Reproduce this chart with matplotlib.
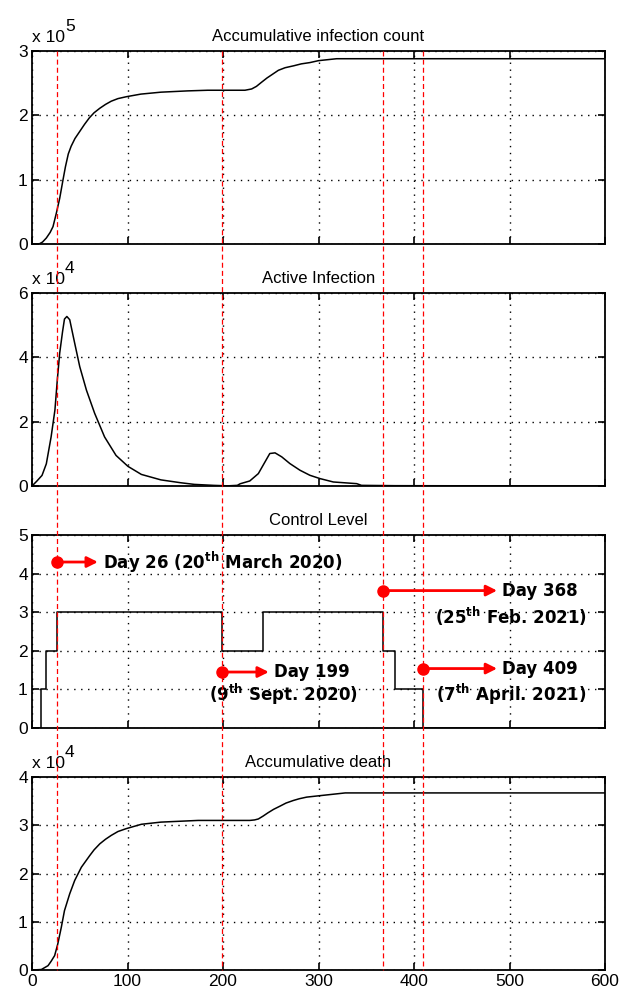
import matplotlib
matplotlib.use('Agg')
import matplotlib.pyplot as plt
from matplotlib.transforms import blended_transform_factory
from matplotlib.lines import Line2D

plt.rcParams['font.family'] = ['Liberation Sans', 'DejaVu Sans']
plt.rcParams['mathtext.fontset'] = 'dejavusans'

# data
inf_days = [0, 4, 8, 11, 15, 19, 22, 25.5, 29, 32.5, 35, 38, 41, 45, 50, 55, 60, 65, 71, 77, 83, 90,
            99, 114, 135, 163, 184, 223, 230, 235, 240, 246, 252, 258, 265, 274, 282, 291, 300, 319, 600]
inf_cum = [0, 100, 500, 3000, 9300, 18000, 27000, 48000, 71000, 100000, 120000, 140000, 152000,
           164000, 175000, 186000, 196000, 204000, 211000, 217000, 222000, 226000, 229000, 233000,
           236000, 238000, 239000, 239000, 241000, 245000, 251000, 258000, 264000, 270000, 274000,
           277000, 280000, 282000, 285000, 288000, 288000]

act_days = [0, 5, 10.5, 15, 20, 24, 26.5, 29, 32, 34, 36.5, 39.5, 44.7, 50, 57, 65.6, 76, 88, 100.5,
            114.5, 135, 156, 170, 190, 205, 215, 218, 228, 237, 244, 249, 254.5, 261.5, 270, 280.6,
            291, 301.6, 315.5, 340, 345, 380, 600]
act_inf = [0, 1500, 3300, 6900, 15250, 23600, 33000, 41300, 48000, 51900, 52700, 51700, 44400,
           37100, 29800, 22600, 15250, 9500, 6100, 3600, 1900, 1000, 500, 200, 50, 200, 700, 1560,
           3850, 7500, 10100, 10300, 9060, 6980, 4900, 3330, 2300, 1250, 730, 200, 100, 0]

ctrl_days = [0, 9.5, 14.5, 26, 199, 242, 368, 380, 409, 600]
ctrl_level = [0, 1, 2, 3, 2, 3, 2, 1, 0, 0]

death_days = [0, 9.8, 16.8, 20, 23.7, 27, 30.7, 34, 39.5, 44.7, 51.7, 60.4, 65, 71, 77, 83, 90, 98.7,
              114.5, 135, 174, 228, 233, 237, 242, 247, 253, 259.7, 266, 273.6, 280, 287.6, 300, 328, 600]
death_cum = [0, 100, 900, 1800, 2980, 5400, 8860, 12300, 15800, 18550, 21300, 23700, 24900, 26150,
             27100, 27900, 28700, 29300, 30200, 30650, 31000, 31000, 31100, 31300, 31900, 32570,
             33300, 33960, 34600, 35130, 35500, 35830, 36100, 36700, 36700]

event_days = [26, 199, 368, 409]

# annotation: day, y, arrow end, label lines, y of second line
notes = [
    (26, 4.3, 69, ['Day 26 (20$^{\\mathbf{th}}$ March 2020)'], None),
    (199, 1.45, 248, ['Day 199', '(9$^{\\mathbf{th}}$ Sept. 2020)'], 0.87),
    (368, 3.56, 487, ['Day 368', '(25$^{\\mathbf{th}}$ Feb. 2021)'], 2.9),
    (409, 1.54, 487, ['Day 409', '(7$^{\\mathbf{th}}$ April. 2021)'], 0.87),
]

fig = plt.figure(figsize=(6.22, 9.97), dpi=100)
W, H = 622.0, 997.0
left, right = 32, 605
tops = [51, 293, 535, 777]
h = 193

axes = []
for t in tops:
    ax = fig.add_axes([left / W, 1 - (t + h) / H, (right - left) / W, h / H])
    axes.append(ax)


def style(ax, ylim, yticks, ylabels, title, expo=None, xlabels=False):
    ax.set_xlim(0, 600)
    ax.set_ylim(*ylim)
    ax.set_xticks(range(0, 601, 100))
    ax.set_yticks(yticks)
    ax.set_yticklabels(ylabels)
    if not xlabels:
        ax.set_xticklabels([])
    ax.tick_params(direction='in', top=True, right=True, length=5, width=1.2,
                   labelsize=12.5, pad=3)
    ax.grid(True, color='black', linestyle=(0, (1, 4)), linewidth=1.0)
    for s in ax.spines.values():
        s.set_linewidth(1.3)
    ax.set_title(title, fontsize=12, pad=7)
    if expo is not None:
        t = ax.text(0, 1.03, 'x 10', transform=ax.transAxes, fontsize=12.5,
                    ha='left', va='bottom')
        ax.annotate(expo, xy=(1.0, 0.75), xycoords=t, fontsize=12.5,
                    ha='left', va='bottom')


ax = axes[0]
ax.plot(inf_days, inf_cum, color='black', lw=1.1)
style(ax, (0, 3e5), [0, 1e5, 2e5, 3e5], ['0', '1', '2', '3'],
      'Accumulative infection count', '5')

ax = axes[1]
ax.plot(act_days, act_inf, color='black', lw=1.1)
style(ax, (0, 6e4), [0, 2e4, 4e4, 6e4], ['0', '2', '4', '6'], 'Active Infection', '4')

ax = axes[2]
ax.step(ctrl_days, ctrl_level, where='post', color='black', lw=1.1)
style(ax, (0, 5), range(6), [str(i) for i in range(6)], 'Control Level')

ax = axes[3]
ax.plot(death_days, death_cum, color='black', lw=1.1)
style(ax, (0, 4e4), [0, 1e4, 2e4, 3e4, 4e4], ['0', '1', '2', '3', '4'],
      'Accumulative death', '4', xlabels=True)

# annotations on control level panel
ax = axes[2]
for day, y, end, lines, y2 in notes:
    ax.annotate('', xy=(end, y), xytext=(day, y),
                arrowprops=dict(arrowstyle='-|>', color='#ff0000', lw=2.0,
                                mutation_scale=16, shrinkA=0, shrinkB=0))
    ax.plot(day, y, 'o', color='#ff0000', ms=8, zorder=5)
    tx = end + 5
    ax.text(tx, y, lines[0], fontsize=12, fontweight='bold',
            family='DejaVu Sans', ha='left', va='center')
    if len(lines) > 1:
        ax.text(end + 15, y2, lines[1], fontsize=12, fontweight='bold',
                family='DejaVu Sans', ha='center', va='center')

# red dashed event lines across all panels
tr = blended_transform_factory(axes[3].transData, fig.transFigure)
for d in event_days:
    fig.add_artist(Line2D([d, d], [1 - tops[0] / H, 1 - (tops[3] + h) / H], transform=tr,
                          color='#ff0000', lw=0.9, linestyle=(0, (4, 2.5)), zorder=3))

fig.savefig('out.png', dpi=100)
